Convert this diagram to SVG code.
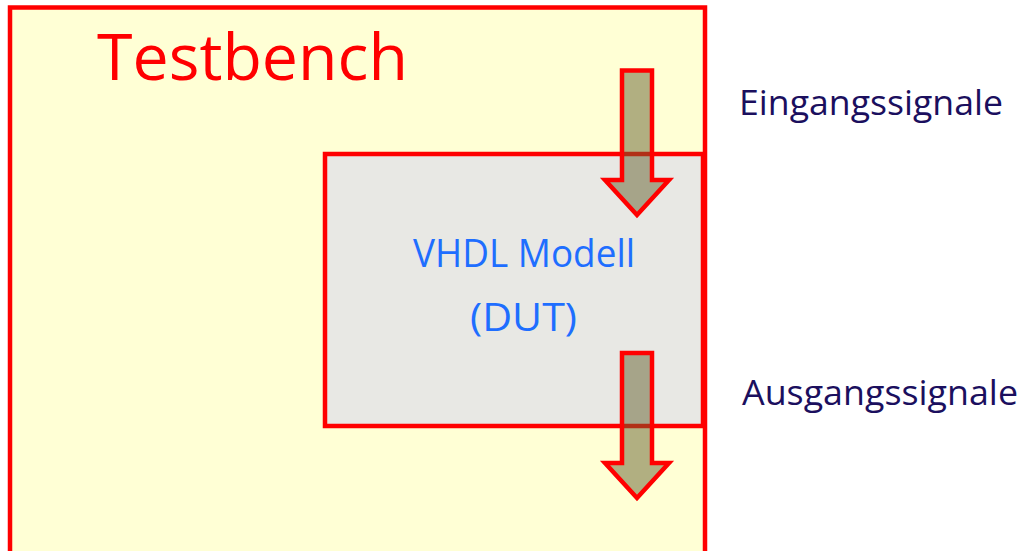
<svg xmlns="http://www.w3.org/2000/svg" width="1021" height="551" viewBox="0 0 1021 551">
  <style>
    .frame { stroke: #ff0000; stroke-width: 4.5; }
    .sig { fill: #645f2d; fill-opacity: 0.5; stroke: #ff0000; stroke-width: 4.5; stroke-linejoin: miter; }
    .lbl { font-family: "Open Sans", "DejaVu Sans", sans-serif; }
  </style>
  <rect width="1021" height="551" fill="#ffffff"/>

  <!-- Testbench frame (runs past the bottom edge) -->
  <g id="testbench">
    <rect class="frame" x="10" y="7.5" width="695" height="600" fill="#ffffd5"/>
    <text class="lbl" x="97" y="80" font-size="64" font-weight="500" fill="#ff0000" textLength="311" lengthAdjust="spacingAndGlyphs">Testbench</text>
  </g>

  <!-- Device under test -->
  <g id="dut">
    <rect class="frame" x="325" y="154" width="378" height="272" fill="#e8e8e4"/>
    <text class="lbl" x="413" y="267" font-size="39" fill="#1e6eff" textLength="222" lengthAdjust="spacingAndGlyphs">VHDL Modell</text>
    <text class="lbl" x="470" y="331" font-size="39" fill="#1e6eff" textLength="107" lengthAdjust="spacingAndGlyphs">(DUT)</text>
  </g>

  <!-- Signal arrows -->
  <g id="connectors">
    <polygon class="sig" points="622,70.5 652,70.5 652,180 669,180 637,215 605,180 622,180"/>
    <polygon class="sig" points="622,353 652,353 652,463 669,463 637,498 605,463 622,463"/>
  </g>

  <g id="label-in">
    <text class="lbl" x="739" y="115" font-size="34" fill="#1b0f5e" textLength="264" lengthAdjust="spacingAndGlyphs">Eingangssignale</text>
  </g>
  <g id="label-out">
    <text class="lbl" x="742" y="405" font-size="34" fill="#1b0f5e" textLength="276" lengthAdjust="spacingAndGlyphs">Ausgangssignale</text>
  </g>
</svg>
